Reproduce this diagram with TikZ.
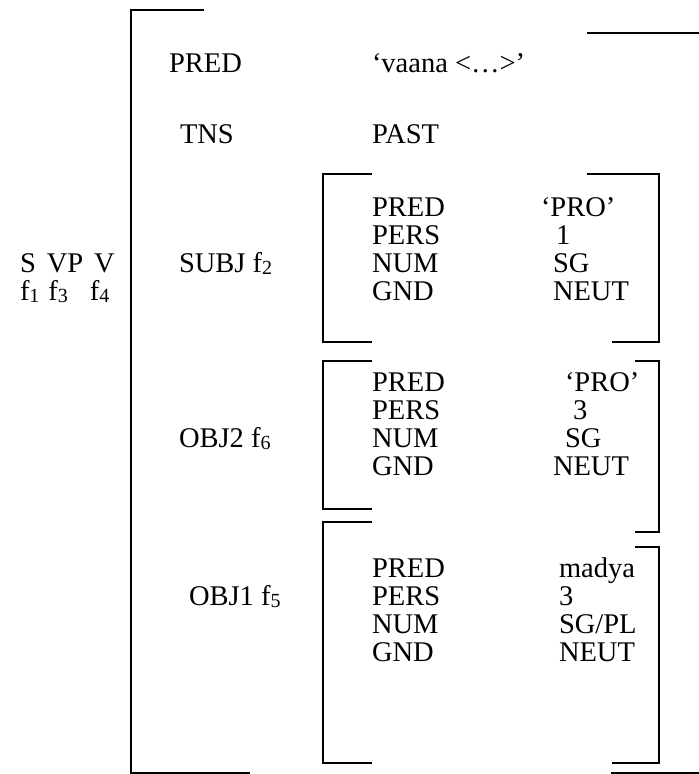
\documentclass[tikz,border=0pt]{standalone}
\usepackage{fontspec}
\setmainfont{Liberation Serif}
\newcommand{\fsb}[1]{\raisebox{-0.1em}{\fontsize{20}{20}\selectfont #1}}
\begin{document}
\begin{tikzpicture}[x=1pt,y=-1pt,
  lbl/.style={anchor=base west,inner sep=0pt,outer sep=0pt,font=\fontsize{28.5}{28.5}\selectfont},
  brk/.style={line width=1.6pt},
  bigbrk/.style={line width=2pt}]
\useasboundingbox (0,0) rectangle (699,774);
% big bracket
\coordinate (BLt) at (131,10);
\coordinate (BLte) at (204,10);
\coordinate (BLb) at (131,773);
\coordinate (BLbe) at (250,773);
\draw[bigbrk] (BLte) -- (BLt) -- (BLb) -- (BLbe);
\coordinate (BRt) at (587,33);
\coordinate (BRte) at (699,33);
\draw[bigbrk] (BRt) -- (BRte);
\coordinate (BRb) at (611,773);
\coordinate (BRbe) at (699,773);
\draw[brk] (BRb) -- (BRbe);
% SUBJ bracket
\coordinate (S1) at (372,174); \coordinate (S2) at (323,174);
\coordinate (S3) at (323,342); \coordinate (S4) at (372,342);
\draw[brk] (S1) -- (S2) -- (S3) -- (S4);
\coordinate (S5) at (587,174); \coordinate (S6) at (659,174);
\coordinate (S7) at (659,342); \coordinate (S8) at (612,342);
\draw[brk] (S5) -- (S6) -- (S7) -- (S8);
% OBJ2 bracket
\coordinate (O1) at (372,361); \coordinate (O2) at (323,361);
\coordinate (O3) at (323,509); \coordinate (O4) at (372,509);
\draw[brk] (O1) -- (O2) -- (O3) -- (O4);
\coordinate (O5) at (635,361); \coordinate (O6) at (659,361);
\coordinate (O7) at (659,532); \coordinate (O8) at (635,532);
\draw[brk] (O5) -- (O6) -- (O7) -- (O8);
% OBJ1 bracket
\coordinate (P1) at (372,522); \coordinate (P2) at (323,522);
\coordinate (P3) at (323,763); \coordinate (P4) at (372,763);
\draw[brk] (P1) -- (P2) -- (P3) -- (P4);
\coordinate (P5) at (635,547); \coordinate (P6) at (659,547);
\coordinate (P7) at (659,763); \coordinate (P8) at (612,763);
\draw[brk] (P5) -- (P6) -- (P7) -- (P8);
% left labels
\node[lbl] (svpv) at (20,272) {S\hspace{11pt}VP\hspace{11pt}V};
\node[lbl] (fff) at (20,300) {f\fsb{1}\hspace{9pt}f\fsb{3}\hspace{22pt}f\fsb{4}};
% outer attributes
\node[lbl] (pred0) at (169,72) {PRED};
\node[lbl] (vaana) at (372,72) {‘vaana <…>’};
\node[lbl] (tns) at (180,143) {TNS};
\node[lbl] (past) at (372,143) {PAST};
\node[lbl] (subj) at (179,272) {SUBJ f\fsb{2}};
\node[lbl] (obj2) at (179,447) {OBJ2 f\fsb{6}};
\node[lbl] (obj1) at (189,605) {OBJ1 f\fsb{5}};
% SUBJ contents
\node[lbl] (sa1) at (372,216) {PRED};
\node[lbl] (sa2) at (372,244) {PERS};
\node[lbl] (sa3) at (372,272) {NUM};
\node[lbl] (sa4) at (372,300) {GND};
\node[lbl] (sv1) at (541,216) {‘PRO’};
\node[lbl] (sv2) at (556,244) {1};
\node[lbl] (sv3) at (553,272) {SG};
\node[lbl] (sv4) at (553,300) {NEUT};
% OBJ2 contents
\node[lbl] (oa1) at (372,391) {PRED};
\node[lbl] (oa2) at (372,419) {PERS};
\node[lbl] (oa3) at (372,447) {NUM};
\node[lbl] (oa4) at (372,475) {GND};
\node[lbl] (ov1) at (565,391) {‘PRO’};
\node[lbl] (ov2) at (573,419) {3};
\node[lbl] (ov3) at (565,447) {SG};
\node[lbl] (ov4) at (553,475) {NEUT};
% OBJ1 contents
\node[lbl] (pa1) at (372,577) {PRED};
\node[lbl] (pa2) at (372,605) {PERS};
\node[lbl] (pa3) at (372,633) {NUM};
\node[lbl] (pa4) at (372,661) {GND};
\node[lbl] (pv1) at (559,577) {madya};
\node[lbl] (pv2) at (559,605) {3};
\node[lbl] (pv3) at (559,633) {SG/PL};
\node[lbl] (pv4) at (559,661) {NEUT};
\end{tikzpicture}
\end{document}
